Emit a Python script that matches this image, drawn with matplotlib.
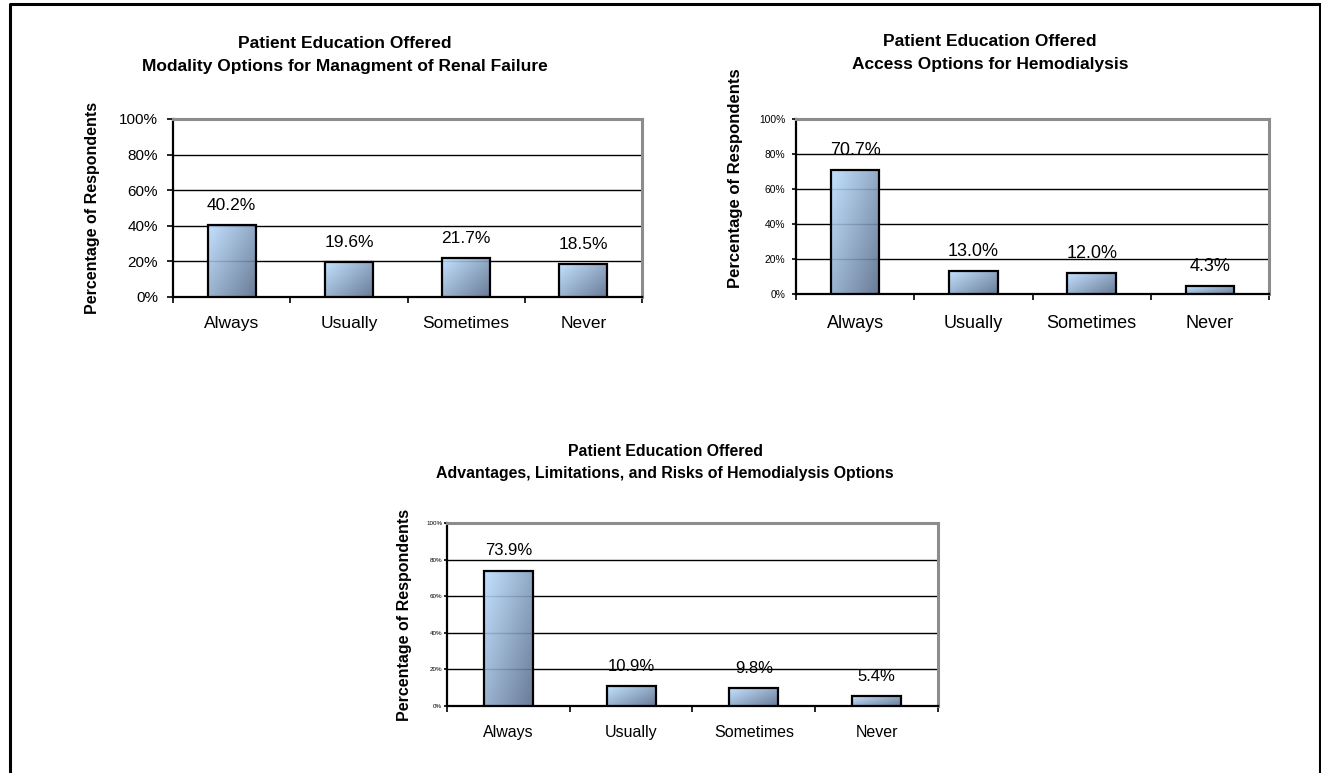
import numpy as np
import matplotlib
matplotlib.use("Agg")
import matplotlib.pyplot as plt
from matplotlib.lines import Line2D

plt.rcParams['font.family'] = ['Liberation Sans', 'DejaVu Sans']

categories = ["Always", "Usually", "Sometimes", "Never"]
modality_values = [40.2, 19.6, 21.7, 18.5]
access_values = [70.7, 13.0, 12.0, 4.3]
advantages_values = [73.9, 10.9, 9.8, 5.4]
y_ticks = [0, 20, 40, 60, 80, 100]
y_tick_labels = ["0%", "20%", "40%", "60%", "80%", "100%"]

title_top = "Patient Education Offered"
title_modality = "Modality Options for Managment of Renal Failure"
title_access = "Access Options for Hemodialysis"
title_advantages = "Advantages, Limitations, and Risks of Hemodialysis Options"
ylabel_text = "Percentage of Respondents"

W, H = 1321, 773
fig = plt.figure(figsize=(W / 100, H / 100), dpi=100)
fig.patch.set_facecolor('white')


def rect(l, t, r, b):
    return [l / W, 1 - b / H, (r - l) / W, (b - t) / H]


# gradient
n = 64
u = np.linspace(0, 1, n)
U, V = np.meshgrid(u, u)
T = np.clip((U * 0.55 + (1 - V) * 0.45), 0, 1)
light = np.array([188, 222, 255]) / 255
dark = np.array([88, 108, 138]) / 255
grad = light[None, None, :] * (1 - T[..., None]) + dark[None, None, :] * T[..., None]


def make_chart(box, values, ytick_size, ytick_len, ytick_pad, cat_size, cat_pad,
               val_size, ylab_size, ylab_x, ylab_y=0.5, bar_w=0.41):
    ax = fig.add_axes(rect(*box))
    x = np.arange(len(categories))
    bars = ax.bar(x, values, width=bar_w, facecolor='none', edgecolor='black',
                  linewidth=1.6, zorder=4)
    for b in bars:
        x0, y0, w, h = b.get_x(), b.get_y(), b.get_width(), b.get_height()
        im = ax.imshow(grad, extent=[x0, x0 + w, y0, y0 + h], origin='lower',
                       aspect='auto', zorder=3, alpha=0.9, interpolation='bilinear')
        im.set_clip_path(b)
    for xi, v in zip(x, values):
        ax.annotate(f"{v:.1f}%", (xi, v), xytext=(0, 14.4), textcoords='offset points',
                    ha='center', va='center', fontsize=val_size, zorder=5)
    ax.set_xlim(-0.5, len(categories) - 0.5)
    ax.set_ylim(0, 100)
    ax.set_yticks(y_ticks)
    ax.set_yticklabels(y_tick_labels)
    ax.yaxis.grid(True, color='black', linewidth=1.0, zorder=1)
    ax.set_axisbelow(True)
    ax.set_xticks(np.arange(-0.5, len(categories), 1.0))
    ax.set_xticklabels([])
    ax.set_xticks(x, minor=True)
    ax.set_xticklabels(categories, minor=True)
    ax.tick_params(axis='x', which='major', direction='out', length=4.3, width=1.2)
    ax.tick_params(axis='x', which='minor', length=0, pad=cat_pad, labelsize=cat_size)
    ax.tick_params(axis='y', direction='out', length=ytick_len, width=1.2,
                   pad=ytick_pad, labelsize=ytick_size)
    for s in ['left', 'bottom']:
        ax.spines[s].set_color('black')
        ax.spines[s].set_linewidth(1.6)
    for s in ['top', 'right']:
        ax.spines[s].set_color('#8c8c8c')
        ax.spines[s].set_linewidth(2.2)
    ax.set_ylabel(ylabel_text, fontsize=ylab_size, fontweight='bold')
    ax.yaxis.label.set_va('center')
    ax.yaxis.set_label_coords(ylab_x, ylab_y)
    return ax


b1 = (173, 119, 642, 297)
b2 = (796, 119, 1269, 294)
b3 = (447, 523, 938, 706)

make_chart(b1, modality_values, 11, 4.3, 6.5, 12.5, 14, 12.5, 11.5,
           (93 - b1[0]) / (b1[2] - b1[0]))
make_chart(b2, access_values, 7.4, 2.9, 5, 13, 15, 13, 12,
           (735 - b2[0]) / (b2[2] - b2[0]), ylab_y=(b2[3] - 178) / (b2[3] - b2[1]))
make_chart(b3, advantages_values, 4.5, 2.0, 1.5, 11.5, 13.5, 12, 11.5,
           (405 - b3[0]) / (b3[2] - b3[0]), bar_w=0.40)


def title(cx, y1, y2, l2, size):
    fig.text(cx / W, 1 - y1 / H, title_top, ha='center', va='center',
             fontsize=size, fontweight='bold')
    fig.text(cx / W, 1 - y2 / H, l2, ha='center', va='center',
             fontsize=size, fontweight='bold')


title(345, 43, 66, title_modality, 12.5)
title(990, 41, 64, title_access, 12.5)
title(665, 451, 474, title_advantages, 11.4)

# page frame
bx = [10 / W, 10 / W, 1320 / W, 1320 / W]
by = [0, 1 - 4 / H, 1 - 4 / H, 0]
fig.add_artist(Line2D(bx, by, transform=fig.transFigure, color='black', linewidth=2.2))

fig.savefig("out.png", dpi=100, facecolor='white')
